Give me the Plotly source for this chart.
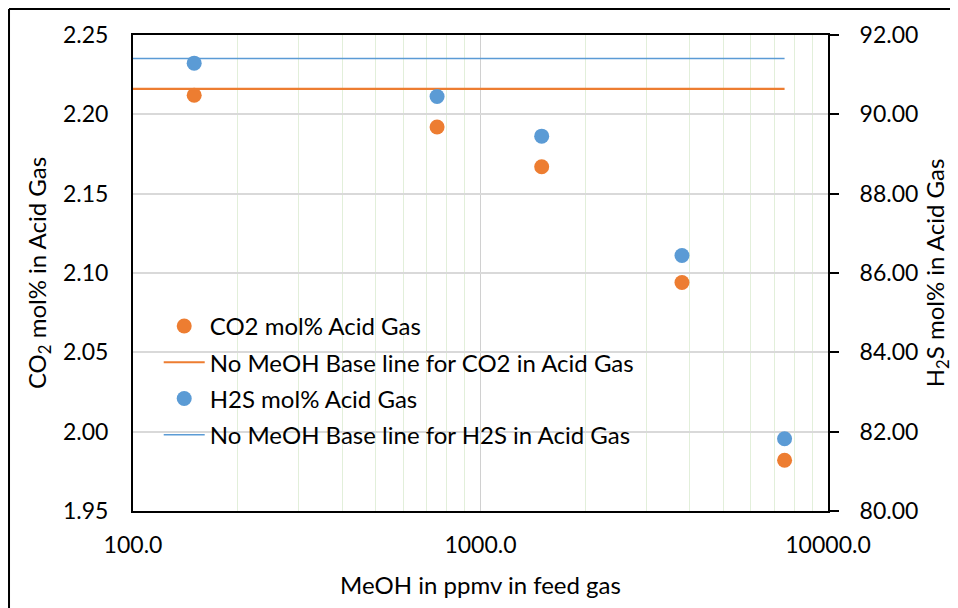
import plotly.graph_objects as go

meoh_ppmv = [150, 750, 1500, 3800, 7500]
co2_mol = [2.212, 2.192, 2.167, 2.094, 1.982]
h2s_mol = [91.29, 90.45, 89.45, 86.44, 81.82]
base_x = [100, 7500]
co2_base = [2.216, 2.216]
h2s_base = [91.41, 91.41]

ORANGE = "#ED7D31"
BLUE = "#5B9BD5"
FONT = "Lato, 'Open Sans', sans-serif"

fig = go.Figure()
fig.add_trace(go.Scatter(x=meoh_ppmv, y=co2_mol, mode="markers", name="CO2 mol% Acid Gas",
                         marker=dict(color=ORANGE, size=15), legendgroup="a"))
fig.add_trace(go.Scatter(x=base_x, y=co2_base, mode="lines", name="No MeOH Base line for CO2 in Acid Gas",
                         line=dict(color=ORANGE, width=2.2), legendgroup="b"))
fig.add_trace(go.Scatter(x=meoh_ppmv, y=h2s_mol, mode="markers", name="H2S mol% Acid Gas",
                         marker=dict(color=BLUE, size=15), yaxis="y2", legendgroup="c"))
fig.add_trace(go.Scatter(x=base_x, y=h2s_base, mode="lines", name="No MeOH Base line for H2S in Acid Gas",
                         line=dict(color=BLUE, width=1.5), yaxis="y2", legendgroup="d"))

fig.update_layout(
    width=950, height=600,
    margin=dict(l=125, r=130, t=27, b=97, autoexpand=False),
    paper_bgcolor="white", plot_bgcolor="white",
    font=dict(family=FONT, size=24, color="black"),
    showlegend=True,
    legend=dict(x=0.037, y=0.435, xanchor="left", yanchor="top", bgcolor="rgba(0,0,0,0)",
                font=dict(size=24), traceorder="grouped", tracegroupgap=2, itemwidth=41),
    xaxis=dict(type="log", range=[2, 4], tickvals=[100, 1000, 10000],
               ticktext=["100.0", "1000.0", "10000.0"], tickfont=dict(size=23),
               showline=True, linecolor="black", linewidth=2, mirror=True,
               showgrid=True, gridcolor="#d0d0d0", gridwidth=1, ticks="",
               ticklabelstandoff=12,
               minor=dict(showgrid=True, gridcolor="#e2efda", gridwidth=1, dtick="D1", ticks=""),
               title=dict(text="MeOH in ppmv in feed gas", font=dict(size=24), standoff=21),
               zeroline=False, automargin=False),
    yaxis=dict(range=[1.95, 2.25], dtick=0.05, tickformat=".2f", tickfont=dict(size=23),
               showline=True, linecolor="black", linewidth=2, ticks="", ticklabelstandoff=18,
               showgrid=True, gridcolor="#d9d9d9", gridwidth=1.5, zeroline=False, automargin=False,
               title=dict(text="CO<sub>2</sub> mol% in Acid Gas", font=dict(size=24), standoff=10)),
    yaxis2=dict(range=[80, 92], dtick=2, tickformat=".2f", overlaying="y", side="right",
                tickfont=dict(size=23), automargin=False,
                showline=True, linecolor="black", linewidth=2, ticks="outside", ticklen=9,
                tickwidth=2, tickcolor="black", showgrid=False, zeroline=False, ticklabelstandoff=16,
                title=dict(text="H<sub>2</sub>S mol% in Acid Gas", font=dict(size=24), standoff=10)),
    shapes=[
        dict(type="line", xref="paper", yref="paper", x0=-0.1784, x1=1.3, y0=1.0546, y1=1.0546,
             line=dict(color="black", width=2)),
        dict(type="line", xref="paper", yref="paper", x0=-0.1784, x1=-0.1784, y0=-0.3, y1=1.0546,
             line=dict(color="black", width=2)),
    ],
)

fig.write_html("out.html")
